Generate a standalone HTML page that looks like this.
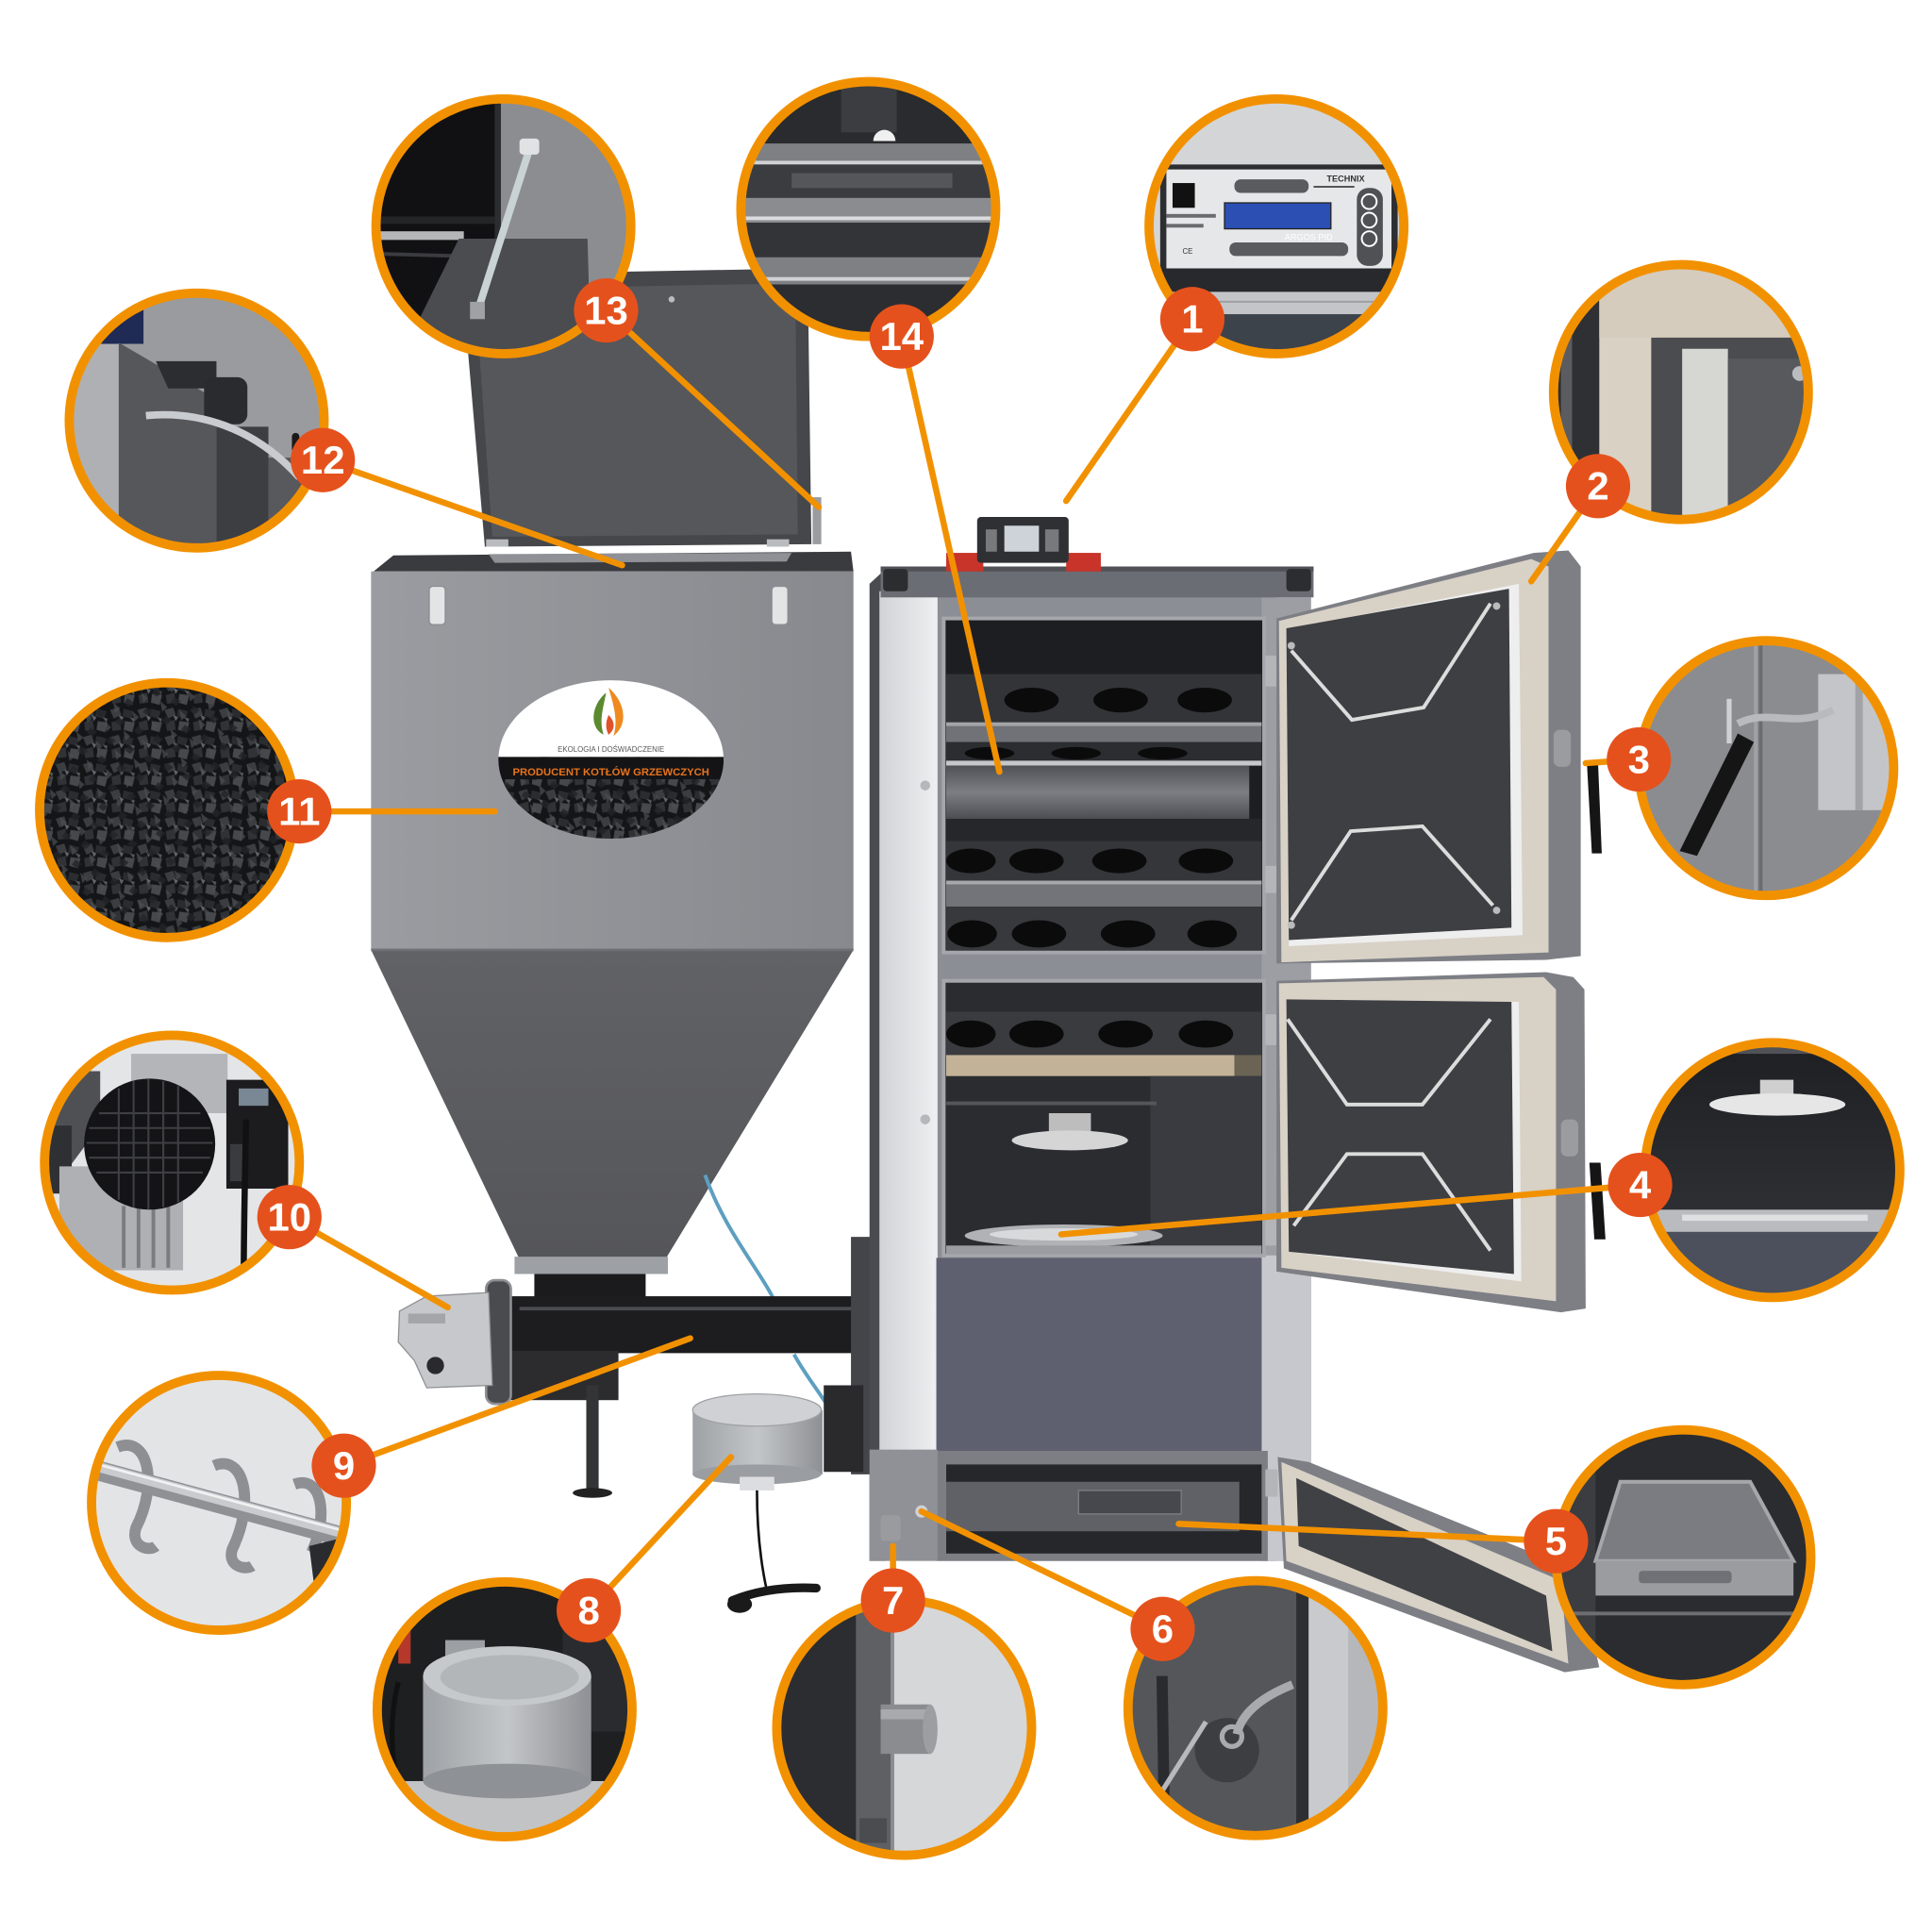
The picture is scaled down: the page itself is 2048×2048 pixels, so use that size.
<!DOCTYPE html>
<html><head><meta charset="utf-8"><style>
html,body{margin:0;padding:0;background:#fff;}
svg{display:block;}
.n{font-family:"Liberation Sans Narrow","Liberation Sans",sans-serif;font-weight:bold;font-size:32px;fill:#fff;text-anchor:middle;}
</style></head><body>
<svg width="2048" height="2048" viewBox="0 0 1562 1562" xmlns="http://www.w3.org/2000/svg">
<defs>
<pattern id="coal" width="22" height="22" patternUnits="userSpaceOnUse">
<rect width="22" height="22" fill="#141517"/>
<polygon points="1,2 8,0 10,6 4,9" fill="#3b3d41"/>
<polygon points="12,1 20,3 18,9 11,7" fill="#2a2c2f"/>
<polygon points="2,12 9,10 10,18 3,19" fill="#303236"/>
<polygon points="13,11 21,12 19,20 12,18" fill="#46484c"/>
<polygon points="8,6 12,8 10,11" fill="#62646a"/>
<polygon points="17,8 21,9 20,12" fill="#55575b"/>
</pattern>
<pattern id="coal2" width="17" height="17" patternUnits="userSpaceOnUse" patternTransform="rotate(25)">
<polygon points="0,0 7,2 5,7" fill="#4c4e52" opacity="0.7"/>
<polygon points="9,9 15,10 13,15 8,14" fill="#232427" opacity="0.8"/>
</pattern>
<linearGradient id="box" x1="0" x2="1" y1="0" y2="0"><stop offset="0" stop-color="#9a9ca1"/><stop offset="1" stop-color="#87898e"/></linearGradient>
<linearGradient id="fun" x1="0" x2="0" y1="0" y2="1"><stop offset="0" stop-color="#616266"/><stop offset="1" stop-color="#55565a"/></linearGradient>
<linearGradient id="tube" x1="0" x2="0" y1="0" y2="1"><stop offset="0" stop-color="#4f5156"/><stop offset="0.5" stop-color="#7c7e83"/><stop offset="1" stop-color="#4c4e53"/></linearGradient>
<linearGradient id="strip" x1="0" x2="1" y1="0" y2="0"><stop offset="0" stop-color="#d2d3d6"/><stop offset="1" stop-color="#eeeff1"/></linearGradient>
<linearGradient id="c4g" x1="0" x2="0" y1="0" y2="1"><stop offset="0" stop-color="#1e1f22"/><stop offset="1" stop-color="#36383d"/></linearGradient>
<linearGradient id="fan" x1="0" x2="1" y1="0" y2="0"><stop offset="0" stop-color="#9ea1a5"/><stop offset="0.5" stop-color="#c3c6c9"/><stop offset="1" stop-color="#8d9094"/></linearGradient>
<clipPath id="k1"><circle cx="1032" cy="183" r="103"/></clipPath>
<clipPath id="k2"><circle cx="1359" cy="317" r="103"/></clipPath>
<clipPath id="k3"><circle cx="1428" cy="621" r="103"/></clipPath>
<clipPath id="k4"><circle cx="1433" cy="946" r="103"/></clipPath>
<clipPath id="k5"><circle cx="1361" cy="1259" r="103"/></clipPath>
<clipPath id="k6"><circle cx="1015" cy="1381" r="103"/></clipPath>
<clipPath id="k7"><circle cx="731" cy="1397" r="103"/></clipPath>
<clipPath id="k8"><circle cx="408" cy="1382" r="103"/></clipPath>
<clipPath id="k9"><circle cx="177" cy="1215" r="103"/></clipPath>
<clipPath id="k10"><circle cx="139" cy="940" r="103"/></clipPath>
<clipPath id="k11"><circle cx="135" cy="655" r="103"/></clipPath>
<clipPath id="k12"><circle cx="159" cy="340" r="103"/></clipPath>
<clipPath id="k13"><circle cx="407" cy="183" r="103"/></clipPath>
<clipPath id="k14"><circle cx="702" cy="169" r="103"/></clipPath>
<clipPath id="logo"><ellipse cx="494" cy="614" rx="91" ry="64"/></clipPath>
</defs>

<rect width="1562" height="1562" fill="#fff"/>

<!-- ================= HOPPER ================= -->
<polygon points="373,222 653,217 656,440 392,442" fill="#46474b"/>
<polygon points="384,234 643,229 645,432 398,434" fill="#56575b"/>
<circle cx="543" cy="242" r="2.5" fill="#bbb"/>
<rect x="393" y="436" width="18" height="6" fill="#b9bbbe"/>
<rect x="620" y="436" width="18" height="6" fill="#b9bbbe"/>
<rect x="657" y="402" width="7" height="38" fill="#9a9c9f"/>
<polygon points="302,462 318,449 688,446 690,462" fill="#3a3b3e"/>
<polygon points="395,448 640,447 636,454 400,455" fill="#8f9196"/>
<rect x="300" y="462" width="390" height="306" fill="url(#box)"/>
<rect x="347" y="474" width="13" height="31" rx="3" fill="#e3e4e6" stroke="#8a8c90"/>
<rect x="624" y="474" width="13" height="31" rx="3" fill="#e3e4e6" stroke="#8a8c90"/>
<polygon points="300,768 690,768 538,1018 420,1018" fill="url(#fun)"/>
<line x1="300" y1="768" x2="690" y2="768" stroke="#6e7075" stroke-width="2"/>
<!-- logo -->
<g clip-path="url(#logo)">
<rect x="400" y="548" width="190" height="70" fill="#fff"/>
<rect x="400" y="612" width="190" height="70" fill="url(#coal)"/>
<rect x="400" y="612" width="190" height="70" fill="url(#coal2)"/>
<rect x="400" y="612" width="190" height="18" fill="#141416"/>
</g>
<path d="M490,560 C478,570 476,588 488,594 C484,582 488,572 490,560Z" fill="#5b8a2e"/>
<path d="M492,556 C506,568 508,586 496,595 C500,582 496,570 492,556Z" fill="#ef8a1f"/>
<path d="M492,578 C498,584 497,590 492,594 C489,588 490,583 492,578Z" fill="#e0522a"/>
<text x="494" y="608" font-family="Liberation Sans Narrow,Liberation Sans,sans-serif" font-size="6" fill="#555" text-anchor="middle">EKOLOGIA I DOŚWIADCZENIE</text>
<text x="494" y="627" font-family="Liberation Sans,sans-serif" font-size="8.6" font-weight="bold" fill="#e8731c" text-anchor="middle">PRODUCENT KOTŁÓW GRZEWCZYCH</text>

<!-- feeder -->
<path d="M570,950 C588,1000 618,1030 630,1060" stroke="#5d9fc0" stroke-width="3" fill="none"/>
<path d="M642,1095 C650,1110 660,1122 670,1138" stroke="#5d9fc0" stroke-width="3" fill="none"/>
<rect x="416" y="1016" width="124" height="14" fill="#9da0a4"/>
<rect x="432" y="1030" width="90" height="42" fill="#1b1b1d"/>
<rect x="395" y="1048" width="302" height="46" fill="#1d1d1f"/>
<line x1="420" y1="1058" x2="690" y2="1058" stroke="#4a4b4e" stroke-width="3"/>
<rect x="408" y="1092" width="92" height="40" fill="#2c2c2e"/>
<rect x="474" y="1120" width="10" height="86" fill="#333436"/>
<ellipse cx="479" cy="1207" rx="16" ry="4" fill="#222"/>
<rect x="393" y="1035" width="20" height="100" rx="7" fill="#4a4b4f" stroke="#8d8f93" stroke-width="2"/>
<polygon points="323,1060 345,1048 395,1045 398,1120 345,1122 335,1100 322,1085" fill="#c6c8cb" stroke="#8f9195"/>
<circle cx="352" cy="1104" r="7" fill="#2a2a2c"/>
<rect x="330" y="1062" width="30" height="8" fill="#a3a5a9"/>
<rect x="688" y="1000" width="24" height="192" fill="#444549"/>
<rect x="666" y="1120" width="32" height="70" fill="#2a2a2c"/>
<!-- blower -->
<rect x="560" y="1140" width="105" height="52" fill="url(#fan)"/>
<ellipse cx="612" cy="1192" rx="52" ry="8" fill="#9a9da1"/>
<ellipse cx="612" cy="1140" rx="52" ry="13" fill="#cfd1d4" stroke="#9fa2a6"/>
<rect x="598" y="1194" width="28" height="11" fill="#dcdde0"/>
<path d="M612,1205 C612,1240 616,1268 620,1286" stroke="#111" stroke-width="2" fill="none"/>
<path d="M592,1294 Q622,1282 660,1284" stroke="#1a1a1a" stroke-width="7" fill="none" stroke-linecap="round"/>
<ellipse cx="598" cy="1297" rx="10" ry="7" fill="#1a1a1a"/>

<!-- ================= BOILER ================= -->
<polygon points="703,472 716,460 716,1262 703,1262" fill="#4a4b50"/>
<rect x="757" y="482" width="275" height="780" fill="#8c8e95"/>
<rect x="1020" y="483" width="40" height="779" fill="#9c9ea4"/>
<rect x="1020" y="1015" width="40" height="247" fill="#c6c8cd"/>
<rect x="711" y="478" width="47" height="697" fill="url(#strip)"/>
<rect x="712" y="458" width="350" height="25" fill="#6b6d74"/>
<rect x="712" y="458" width="350" height="4" fill="#505258"/>
<rect x="714" y="460" width="20" height="18" rx="3" fill="#2c2d30"/>
<rect x="1040" y="460" width="20" height="18" rx="3" fill="#2c2d30"/>
<circle cx="748" cy="635" r="4" fill="#b5b7ba"/>
<circle cx="748" cy="905" r="4" fill="#b5b7ba"/>
<!-- controller -->
<rect x="765" y="447" width="30" height="15" fill="#c8342a"/>
<rect x="862" y="447" width="28" height="15" fill="#c8342a"/>
<rect x="790" y="418" width="74" height="37" rx="3" fill="#2f3034"/>
<rect x="812" y="425" width="28" height="21" fill="#cdd3d8"/>
<rect x="797" y="428" width="9" height="18" fill="#77797d"/>
<rect x="845" y="428" width="11" height="18" fill="#77797d"/>
<!-- upper chamber -->
<rect x="763" y="500" width="259" height="270" fill="#1d1e21" stroke="#a5a7ac" stroke-width="3"/>
<rect x="765" y="545" width="255" height="39" fill="#333438"/>
<ellipse cx="834" cy="566" rx="22" ry="10" fill="#0b0b0c"/>
<ellipse cx="906" cy="566" rx="22" ry="10" fill="#0b0b0c"/>
<ellipse cx="974" cy="566" rx="22" ry="10" fill="#0b0b0c"/>
<rect x="765" y="584" width="255" height="16" fill="#707277"/>
<rect x="765" y="584" width="255" height="3" fill="#a2a4a8"/>
<rect x="765" y="600" width="255" height="15" fill="#2c2d31"/>
<ellipse cx="800" cy="609" rx="20" ry="5" fill="#0b0b0c"/>
<ellipse cx="870" cy="609" rx="20" ry="5" fill="#0b0b0c"/>
<ellipse cx="940" cy="609" rx="20" ry="5" fill="#0b0b0c"/>
<rect x="765" y="615" width="255" height="4" fill="#c5c7cb"/>
<rect x="765" y="619" width="245" height="43" fill="url(#tube)"/>
<rect x="765" y="662" width="255" height="18" fill="#26272a"/>
<rect x="765" y="680" width="255" height="32" fill="#35363a"/>
<ellipse cx="785" cy="696" rx="20" ry="10" fill="#0b0b0c"/>
<ellipse cx="838" cy="696" rx="22" ry="10" fill="#0b0b0c"/>
<ellipse cx="905" cy="696" rx="22" ry="10" fill="#0b0b0c"/>
<ellipse cx="975" cy="696" rx="22" ry="10" fill="#0b0b0c"/>
<rect x="765" y="712" width="255" height="21" fill="#727479"/>
<rect x="765" y="712" width="255" height="3" fill="#a6a8ac"/>
<rect x="765" y="733" width="255" height="35" fill="#38393d"/>
<ellipse cx="786" cy="755" rx="20" ry="11" fill="#0b0b0c"/>
<ellipse cx="840" cy="755" rx="22" ry="11" fill="#0b0b0c"/>
<ellipse cx="912" cy="755" rx="22" ry="11" fill="#0b0b0c"/>
<ellipse cx="980" cy="755" rx="20" ry="11" fill="#0b0b0c"/>
<!-- lower chamber -->
<rect x="763" y="793" width="259" height="222" fill="#2b2c30" stroke="#a5a7ac" stroke-width="3"/>
<rect x="765" y="818" width="255" height="35" fill="#3a3b3f"/>
<ellipse cx="785" cy="836" rx="20" ry="11" fill="#0b0b0c"/>
<ellipse cx="838" cy="836" rx="22" ry="11" fill="#0b0b0c"/>
<ellipse cx="910" cy="836" rx="22" ry="11" fill="#0b0b0c"/>
<ellipse cx="975" cy="836" rx="22" ry="11" fill="#0b0b0c"/>
<rect x="765" y="853" width="233" height="17" fill="#c2b297"/>
<rect x="998" y="853" width="22" height="17" fill="#6b6455"/>
<rect x="930" y="870" width="90" height="140" fill="#3a3b40"/>
<line x1="765" y1="892" x2="935" y2="892" stroke="#555659" stroke-width="3"/>
<rect x="848" y="900" width="34" height="15" fill="#bdbdbd"/>
<ellipse cx="865" cy="922" rx="47" ry="8" fill="#d5d5d5"/>
<ellipse cx="860" cy="999" rx="80" ry="9" fill="#b0b2b6"/>
<ellipse cx="860" cy="998" rx="60" ry="5" fill="#d8d9db"/>
<rect x="765" y="1007" width="255" height="7" fill="#9a9ca1"/>
<!-- lower panel & ash -->
<rect x="757" y="1017" width="263" height="156" fill="#5e6070"/>
<rect x="757" y="1173" width="268" height="89" fill="#7c7e84"/>
<rect x="765" y="1184" width="255" height="72" fill="#26272a"/>
<rect x="765" y="1198" width="237" height="40" fill="#5f6166"/>
<rect x="872" y="1205" width="83" height="19" fill="#46484d" stroke="#7d7f84"/>
<rect x="703" y="1172" width="55" height="90" fill="#8f9196"/>
<circle cx="745" cy="1222" r="5" fill="#d0d1d4"/>
<rect x="712" y="1225" width="16" height="21" rx="3" fill="#9a9b9f"/>
<!-- hinges -->
<rect x="1023" y="530" width="10" height="25" fill="#b3b5b9"/>
<rect x="1023" y="700" width="10" height="22" fill="#b3b5b9"/>
<rect x="1023" y="820" width="10" height="25" fill="#b3b5b9"/>
<rect x="1023" y="985" width="10" height="22" fill="#b3b5b9"/>
<rect x="1023" y="1188" width="10" height="22" fill="#b3b5b9"/>

<!-- upper door -->
<polygon points="1032,500 1240,447 1268,445 1278,458 1278,773 1250,776 1032,779" fill="#7d7f85"/>
<polygon points="1034,502 1238,452 1252,458 1252,770 1036,778" fill="#d8d1c6"/>
<polygon points="1040,509 1228,472 1231,756 1042,765" fill="#eeeeee"/>
<polygon points="1040,508 1220,476 1222,750 1042,760" fill="#3e3f43"/>
<polyline points="1044,526 1093,582 1151,572 1205,488" fill="none" stroke="#dcdcdc" stroke-width="3"/>
<polyline points="1044,744 1092,672 1150,668 1207,732" fill="none" stroke="#dcdcdc" stroke-width="3"/>
<circle cx="1044" cy="522" r="3" fill="#bbb"/><circle cx="1210" cy="490" r="3" fill="#bbb"/>
<circle cx="1044" cy="748" r="3" fill="#bbb"/><circle cx="1210" cy="736" r="3" fill="#bbb"/>
<rect x="1256" y="590" width="14" height="30" rx="5" fill="#9a9ca0"/>
<polygon points="1283,617 1292,617 1295,690 1287,690" fill="#151516"/>
<!-- lower door -->
<polygon points="1032,793 1250,786 1272,790 1281,800 1282,1058 1262,1061 1032,1028" fill="#7d7f85"/>
<polygon points="1034,795 1248,790 1258,800 1258,1052 1036,1025" fill="#d8d1c6"/>
<polygon points="1040,808 1228,810 1230,1036 1042,1012" fill="#eeeeee"/>
<polygon points="1040,808 1222,810 1224,1030 1042,1012" fill="#3e3f43"/>
<polyline points="1041,824 1089,893 1150,893 1205,824" fill="none" stroke="#dcdcdc" stroke-width="3"/>
<polyline points="1046,991 1089,933 1150,933 1205,1011" fill="none" stroke="#dcdcdc" stroke-width="3"/>
<rect x="1262" y="905" width="14" height="30" rx="5" fill="#9a9ca0"/>
<polygon points="1285,940 1294,940 1298,1002 1289,1002" fill="#151516"/>
<!-- ash door -->
<polygon points="1033,1178 1058,1182 1275,1270 1293,1348 1265,1352 1038,1268" fill="#7d7f85"/>
<polygon points="1036,1182 1262,1278 1268,1345 1040,1262" fill="#d8d1c6"/>
<polygon points="1048,1195 1250,1290 1255,1335 1050,1250" fill="#404145"/>

<!-- ================= CIRCLES ================= -->
<!-- 1 -->
<g clip-path="url(#k1)">
<rect x="920" y="70" width="230" height="240" fill="#d4d5d7"/>
<rect x="938" y="133" width="192" height="88" rx="5" fill="#2d2e31"/>
<rect x="943" y="137" width="182" height="80" fill="#e6e7e9"/>
<rect x="1097" y="152" width="21" height="63" rx="9" fill="#505155"/>
<circle cx="1107" cy="163" r="6" fill="none" stroke="#fff" stroke-width="1.5"/>
<circle cx="1107" cy="178" r="6" fill="none" stroke="#fff" stroke-width="1.5"/>
<circle cx="1107" cy="193" r="6" fill="none" stroke="#fff" stroke-width="1.5"/>
<rect x="990" y="164" width="86" height="21" fill="#2c4fb4" stroke="#222"/>
<rect x="948" y="148" width="18" height="20" fill="#111"/>
<rect x="998" y="145" width="60" height="11" rx="5" fill="#5a5b5f"/>
<line x1="1062" y1="151" x2="1095" y2="151" stroke="#555" stroke-width="1.5"/>
<rect x="994" y="196" width="96" height="11" rx="5" fill="#5a5b5f"/>
<rect x="943" y="173" width="40" height="3" fill="#6a6b6e"/>
<rect x="943" y="181" width="30" height="3" fill="#6a6b6e"/>
<text x="1088" y="147" font-family="Liberation Sans,sans-serif" font-size="7" font-weight="bold" fill="#333" text-anchor="middle">TECHNIX</text>
<text x="1058" y="194" font-family="Liberation Sans,sans-serif" font-size="7" fill="#fff" text-anchor="middle">ARGOS PID</text>
<text x="956" y="205" font-family="Liberation Sans,sans-serif" font-size="6" fill="#333">CE</text>
<rect x="920" y="217" width="230" height="19" fill="#28292c"/>
<rect x="920" y="236" width="230" height="18" fill="#c3c5c8"/>
<line x1="920" y1="244" x2="1150" y2="244" stroke="#9ea0a4" stroke-width="1.5"/>
<rect x="920" y="254" width="230" height="50" fill="#3d434b"/>
</g>
<!-- 2 -->
<g clip-path="url(#k2)">
<rect x="1250" y="205" width="220" height="230" fill="#2f3033"/>
<rect x="1262" y="205" width="9" height="230" fill="#5b5c60"/>
<rect x="1293" y="205" width="47" height="230" fill="#d9d1c3"/>
<rect x="1293" y="215" width="180" height="58" fill="#d5ccbd"/>
<rect x="1335" y="273" width="140" height="165" fill="#4b4c50"/>
<rect x="1360" y="282" width="37" height="150" fill="#d6d6d3"/>
<rect x="1397" y="290" width="75" height="145" fill="#58595d"/>
<circle cx="1455" cy="302" r="6" fill="#bbbcbf"/>
</g>
<!-- 3 -->
<g clip-path="url(#k3)">
<rect x="1320" y="512" width="225" height="220" fill="#8b8c90"/>
<rect x="1418" y="512" width="3" height="220" fill="#a0a1a4"/>
<rect x="1422" y="512" width="3" height="220" fill="#6b6c70"/>
<rect x="1470" y="545" width="75" height="110" fill="#c4c5c8"/>
<rect x="1500" y="545" width="6" height="110" fill="#a2a3a6"/>
<path d="M1405,585 C1430,572 1450,590 1482,574" stroke="#b9babd" stroke-width="6" fill="none"/>
<rect x="1396" y="565" width="4" height="36" fill="#cfd0d2"/>
<polygon points="1358,688 1372,692 1418,600 1405,593" fill="#151516"/>
</g>
<!-- 4 -->
<g clip-path="url(#k4)">
<rect x="1325" y="838" width="220" height="220" fill="url(#c4g)"/>
<rect x="1325" y="840" width="220" height="12" fill="#505257"/>
<rect x="1423" y="873" width="27" height="17" fill="#cfcfcf"/>
<ellipse cx="1437" cy="893" rx="55" ry="9" fill="#e6e6e6"/>
<rect x="1325" y="978" width="220" height="18" fill="#b9bbbf"/>
<rect x="1360" y="982" width="150" height="5" fill="#dfe0e2"/>
<rect x="1325" y="996" width="220" height="62" fill="#4b505c"/>
</g>
<!-- 5 -->
<g clip-path="url(#k5)">
<rect x="1255" y="1152" width="220" height="215" fill="#2b2c2f"/>
<rect x="1255" y="1152" width="35" height="215" fill="#3c3d40"/>
<polygon points="1310,1198 1415,1198 1450,1262 1290,1262" fill="#7a7c81" stroke="#a5a7ab" stroke-width="3"/>
<rect x="1290" y="1262" width="160" height="28" fill="#9a9ca0"/>
<rect x="1325" y="1270" width="75" height="10" rx="3" fill="#6f7176"/>
<rect x="1255" y="1303" width="220" height="3" fill="#6c6e72"/>
</g>
<!-- 6 -->
<g clip-path="url(#k6)">
<rect x="905" y="1275" width="225" height="215" fill="#55565a"/>
<rect x="1048" y="1275" width="10" height="215" fill="#2e2f32"/>
<rect x="1058" y="1275" width="72" height="215" fill="#c9cacd"/>
<rect x="1090" y="1275" width="40" height="215" fill="#b6b7ba"/>
<polygon points="935,1355 944,1355 946,1480 937,1480" fill="#2a2b2e"/>
<circle cx="992" cy="1415" r="26" fill="#3d3e41"/>
<path d="M1045,1362 C1030,1368 1005,1380 1000,1402" stroke="#a9aaad" stroke-width="7" fill="none"/>
<circle cx="996" cy="1404" r="8" fill="none" stroke="#a9aaad" stroke-width="4"/>
<line x1="932" y1="1460" x2="975" y2="1392" stroke="#b8b9bc" stroke-width="4"/>
</g>
<!-- 7 -->
<g clip-path="url(#k7)">
<rect x="620" y="1290" width="225" height="220" fill="#d6d7d9"/>
<rect x="620" y="1290" width="75" height="220" fill="#2c2d30"/>
<rect x="692" y="1290" width="30" height="220" fill="#5f6064"/>
<rect x="720" y="1290" width="3" height="220" fill="#8b8c90"/>
<rect x="712" y="1378" width="40" height="40" fill="#8b8c90"/>
<rect x="712" y="1382" width="40" height="8" fill="#a9aaae"/>
<ellipse cx="752" cy="1398" rx="6" ry="20" fill="#9d9ea2"/>
<rect x="695" y="1470" width="22" height="20" fill="#4b4c50"/>
</g>
<!-- 8 -->
<g clip-path="url(#k8)">
<rect x="300" y="1275" width="220" height="220" fill="#1e1f21"/>
<rect x="455" y="1275" width="65" height="125" fill="#2a2b2e"/>
<rect x="300" y="1440" width="220" height="60" fill="#c2c3c5"/>
<rect x="322" y="1318" width="10" height="27" fill="#b5382a"/>
<rect x="360" y="1326" width="32" height="22" fill="#9c9fa3"/>
<rect x="342" y="1355" width="136" height="85" fill="url(#fan)"/>
<ellipse cx="410" cy="1440" rx="68" ry="14" fill="#8e9195"/>
<ellipse cx="410" cy="1355" rx="68" ry="24" fill="#c6c9cc"/>
<ellipse cx="412" cy="1356" rx="56" ry="18" fill="#b3b6b9"/>
<path d="M322,1360 C312,1400 318,1440 330,1470" stroke="#111" stroke-width="4" fill="none"/>
</g>
<!-- 9 -->
<g clip-path="url(#k9)">
<rect x="70" y="1108" width="220" height="215" fill="#e3e4e6"/>
<path d="M95,1170 C120,1160 128,1200 110,1235 C105,1250 120,1255 126,1250" stroke="#8d8f93" stroke-width="9" fill="none"/>
<path d="M173,1185 C198,1175 206,1215 188,1252 C183,1266 198,1270 204,1266" stroke="#8d8f93" stroke-width="9" fill="none"/>
<path d="M238,1200 C260,1192 266,1225 252,1255" stroke="#8d8f93" stroke-width="9" fill="none"/>
<line x1="72" y1="1187" x2="290" y2="1246" stroke="#8f9195" stroke-width="16"/>
<line x1="72" y1="1184" x2="290" y2="1243" stroke="#c9cbce" stroke-width="8"/>
<line x1="72" y1="1182" x2="290" y2="1241" stroke="#f2f2f3" stroke-width="2"/>
<polygon points="250,1250 290,1240 290,1300 255,1290" fill="#2a2b2e"/>
</g>
<!-- 10 -->
<g clip-path="url(#k10)">
<rect x="32" y="834" width="220" height="215" fill="#e4e5e7"/>
<polygon points="32,866 81,866 81,910 40,965 32,965" fill="#4f5054"/>
<rect x="36" y="910" width="22" height="55" fill="#2f3033"/>
<rect x="106" y="852" width="78" height="48" fill="#b3b5b8"/>
<rect x="48" y="943" width="100" height="84" fill="#aeb0b4"/>
<line x1="100" y1="975" x2="100" y2="1025" stroke="#7a7c80" stroke-width="3"/>
<line x1="112" y1="975" x2="112" y2="1025" stroke="#7a7c80" stroke-width="3"/>
<line x1="124" y1="975" x2="124" y2="1025" stroke="#7a7c80" stroke-width="3"/>
<line x1="136" y1="975" x2="136" y2="1025" stroke="#7a7c80" stroke-width="3"/>
<circle cx="121" cy="925" r="53" fill="#141416"/>
<g stroke="#3e3f42" stroke-width="1.6">
<line x1="80" y1="900" x2="162" y2="900"/><line x1="72" y1="912" x2="170" y2="912"/><line x1="70" y1="924" x2="172" y2="924"/><line x1="72" y1="936" x2="170" y2="936"/><line x1="78" y1="948" x2="164" y2="948"/>
<line x1="96" y1="880" x2="96" y2="970"/><line x1="108" y1="874" x2="108" y2="976"/><line x1="120" y1="872" x2="120" y2="978"/><line x1="132" y1="874" x2="132" y2="976"/><line x1="144" y1="878" x2="144" y2="972"/>
</g>
<rect x="183" y="873" width="50" height="88" fill="#1c1c1e"/>
<rect x="193" y="880" width="24" height="14" fill="#7a8794"/>
<rect x="186" y="925" width="12" height="30" fill="#3a3b3e"/>
<path d="M199,905 C198,950 197,1000 197,1045" stroke="#111" stroke-width="5" fill="none"/>
</g>
<!-- 11 -->
<g clip-path="url(#k11)">
<rect x="28" y="548" width="215" height="215" fill="url(#coal)"/>
<rect x="28" y="548" width="215" height="215" fill="url(#coal2)"/>
</g>
<!-- 12 -->
<g clip-path="url(#k12)">
<rect x="52" y="232" width="220" height="220" fill="#9a9b9e"/>
<rect x="52" y="232" width="44" height="220" fill="#afb0b3"/>
<rect x="80" y="236" width="36" height="42" fill="#1f2a55"/>
<polygon points="96,277 175,323 175,452 96,452" fill="#56575b"/>
<rect x="175" y="345" width="42" height="107" fill="#3d3e42"/>
<rect x="217" y="370" width="55" height="82" fill="#58595c"/>
<polygon points="126,292 175,292 175,314 136,314" fill="#2c2d30"/>
<rect x="165" y="305" width="35" height="38" rx="8" fill="#2a2b2e"/>
<path d="M118,336 C160,332 205,345 242,386" stroke="#c8ccd0" stroke-width="6" fill="none"/>
<rect x="236" y="350" width="6" height="16" rx="3" fill="#1a1a1c"/>
</g>
<!-- 13 -->
<g clip-path="url(#k13)">
<rect x="300" y="75" width="220" height="220" fill="#8c8d90"/>
<rect x="300" y="75" width="104" height="225" fill="#111113"/>
<rect x="400" y="75" width="5" height="120" fill="#2c2d30"/>
<rect x="300" y="175" width="100" height="6" fill="#242527"/>
<rect x="300" y="187" width="75" height="7" fill="#b5b6b8"/>
<line x1="300" y1="205" x2="372" y2="207" stroke="#3b3c40" stroke-width="3"/>
<polygon points="371,193 475,193 478,300 320,300 337,262" fill="#4b4c50"/>
<line x1="427" y1="124" x2="386" y2="252" stroke="#c9d3d6" stroke-width="6"/>
<rect x="420" y="112" width="16" height="13" rx="3" fill="#e0e2e3"/>
<rect x="380" y="244" width="12" height="14" fill="#9fa1a4"/>
</g>
<!-- 14 -->
<g clip-path="url(#k14)">
<rect x="595" y="62" width="215" height="220" fill="#2a2b2e"/>
<rect x="680" y="62" width="45" height="45" fill="#3c3d40"/>
<path d="M706,114 A9,9 0 0 1 724,114 Z" fill="#f0f0f0"/>
<rect x="595" y="116" width="215" height="17" fill="#7e8084"/>
<rect x="595" y="130" width="215" height="3" fill="#d0d2d5"/>
<rect x="595" y="133" width="215" height="27" fill="#3b3c40"/>
<rect x="640" y="140" width="130" height="12" fill="#55565a"/>
<rect x="595" y="160" width="215" height="20" fill="#8a8c90"/>
<rect x="595" y="175" width="215" height="3" fill="#dadcdf"/>
<rect x="595" y="180" width="215" height="28" fill="#333438"/>
<rect x="595" y="208" width="215" height="22" fill="#7e8084"/>
<rect x="595" y="224" width="215" height="3" fill="#d0d2d5"/>
<rect x="595" y="230" width="215" height="52" fill="#2c2d30"/>
</g>

<!-- rings -->
<g fill="none" stroke="#f29100" stroke-width="7.5">
<circle cx="1032" cy="183" r="103"/>
<circle cx="1359" cy="317" r="103"/>
<circle cx="1428" cy="621" r="103"/>
<circle cx="1433" cy="946" r="103"/>
<circle cx="1361" cy="1259" r="103"/>
<circle cx="1015" cy="1381" r="103"/>
<circle cx="731" cy="1397" r="103"/>
<circle cx="408" cy="1382" r="103"/>
<circle cx="177" cy="1215" r="103"/>
<circle cx="139" cy="940" r="103"/>
<circle cx="135" cy="655" r="103"/>
<circle cx="159" cy="340" r="103"/>
<circle cx="407" cy="183" r="103"/>
<circle cx="702" cy="169" r="103"/>
</g>

<!-- leader lines -->
<g stroke="#f29100" stroke-width="5" stroke-linecap="round">
<line x1="964" y1="258" x2="862" y2="405"/>
<line x1="1292" y1="393" x2="1238" y2="470"/>
<line x1="1325" y1="614" x2="1282" y2="617"/>
<line x1="1326" y1="958" x2="858" y2="998"/>
<line x1="1258" y1="1246" x2="953" y2="1232"/>
<line x1="940" y1="1317" x2="745" y2="1222"/>
<line x1="722" y1="1294" x2="722" y2="1250"/>
<line x1="476" y1="1302" x2="591" y2="1178"/>
<line x1="278" y1="1185" x2="558" y2="1082"/>
<line x1="234" y1="984" x2="362" y2="1057"/>
<line x1="242" y1="656" x2="400" y2="656"/>
<line x1="261" y1="372" x2="503" y2="457"/>
<line x1="490" y1="251" x2="662" y2="410"/>
<line x1="729" y1="272" x2="808" y2="624"/>
</g>

<!-- markers -->
<g fill="#e5511c">
<circle cx="964" cy="258" r="26"/>
<circle cx="1292" cy="393" r="26"/>
<circle cx="1325" cy="614" r="26"/>
<circle cx="1326" cy="958" r="26"/>
<circle cx="1258" cy="1246" r="26"/>
<circle cx="940" cy="1317" r="26"/>
<circle cx="722" cy="1294" r="26"/>
<circle cx="476" cy="1302" r="26"/>
<circle cx="278" cy="1185" r="26"/>
<circle cx="234" cy="984" r="26"/>
<circle cx="242" cy="656" r="26"/>
<circle cx="261" cy="372" r="26"/>
<circle cx="490" cy="251" r="26"/>
<circle cx="729" cy="272" r="26"/>
</g>
<text class="n" x="964" y="269">1</text>
<text class="n" x="1292" y="404">2</text>
<text class="n" x="1325" y="625">3</text>
<text class="n" x="1326" y="969">4</text>
<text class="n" x="1258" y="1257">5</text>
<text class="n" x="940" y="1328">6</text>
<text class="n" x="722" y="1305">7</text>
<text class="n" x="476" y="1313">8</text>
<text class="n" x="278" y="1196">9</text>
<text class="n" x="234" y="995">10</text>
<text class="n" x="242" y="667">11</text>
<text class="n" x="261" y="383">12</text>
<text class="n" x="490" y="262">13</text>
<text class="n" x="729" y="283">14</text>
</svg>
</body></html>
